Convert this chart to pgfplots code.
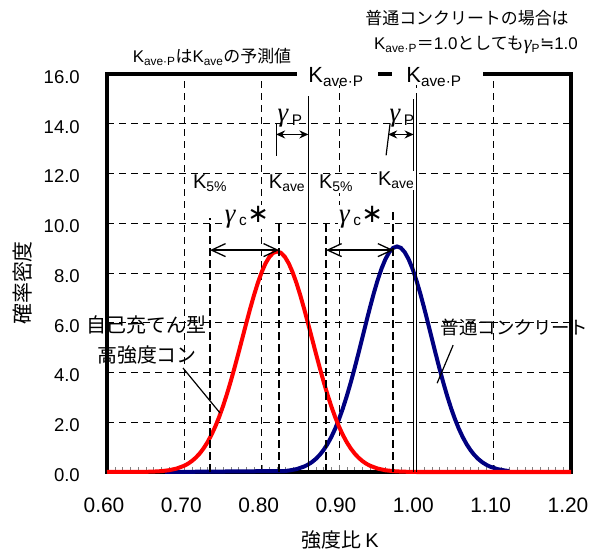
\documentclass[border=0pt]{standalone}
\usepackage{fontspec}
\usepackage{pgfplots}
\pgfplotsset{compat=1.18}
\usetikzlibrary{arrows.meta}
\setmainfont{Liberation Sans}
\newfontfamily\jp{Noto Sans CJK JP}
\newfontfamily\dejavu{DejaVu Sans}
\newfontfamily\gser{Liberation Serif}
\newcommand{\fs}[1]{\fontsize{#1}{#1}\selectfont}
\newcommand{\gam}[1]{{\fontsize{#1}{#1}\selectfont\gser\itshape γ}}
\newcommand{\astk}{{\fontsize{26}{26}\selectfont\dejavu ∗}}
\definecolor{navyb}{RGB}{0,0,128}
\begin{document}
\begin{tikzpicture}
\path[use as bounding box] (0,0) rectangle (601bp,553bp);
\begin{axis}[
  at={(107bp,81bp)}, anchor=south west,
  width=464bp, height=398bp, scale only axis,
  xmin=0.6, xmax=1.2, ymin=0, ymax=16,
  xtick={0.6,0.7,0.8,0.9,1.0,1.1,1.2},
  ytick={0,2,4,6,8,10,12,14,16},
  minor x tick num=9,
  grid=major,
  major grid style={black, line width=0.8bp, dash pattern=on 7bp off 5bp},
  tick align=inside,
  xtick pos=left,
  ytick style={draw=none},
  minor tick length=5bp, major tick length=7bp,
  axis line style={line width=4.5bp},
  clip=false,
  /pgf/number format/assume math mode=true,
  xticklabel style={/pgf/number format/.cd, fixed, fixed zerofill, precision=2, /tikz/.cd, font=\fs{21}, anchor=north, inner sep=0pt, yshift=-26bp, xshift=-3bp},
  yticklabel style={/pgf/number format/.cd, fixed, fixed zerofill, precision=1, /tikz/.cd, font=\fs{18.6}, anchor=east, inner sep=0pt, xshift=-27bp, yshift=-3bp},
  xlabel={\jp 強度比\ \rmfamily K},
  xlabel style={at={(axis description cs:0.502,-0.172)}, anchor=center, font=\fs{20}},
  ylabel={\jp 確率密度},
  ylabel style={at={(axis description cs:-0.181,0.475)}, anchor=center, font=\fs{21}},
]
% blue: normal concrete
\addplot[navyb, line width=4bp] coordinates {
(0.675,0) (0.830,0.040) (0.835,0.057) (0.845,0.115) (0.855,0.220) (0.860,0.298)
(0.865,0.398) (0.870,0.526) (0.875,0.685) (0.880,0.881) (0.885,1.119) (0.890,1.403)
(0.895,1.736) (0.900,2.121) (0.905,2.558) (0.910,3.045) (0.915,3.578) (0.920,4.151)
(0.925,4.754) (0.930,5.374) (0.935,5.998) (0.940,6.608) (0.945,7.187) (0.950,7.715)
(0.955,8.177) (0.960,8.555) (0.965,8.836) (0.970,9.009) (0.975,9.067) (0.980,9.009)
(0.985,8.836) (0.990,8.555) (0.995,8.177) (1.000,7.715) (1.005,7.187) (1.010,6.608)
(1.015,5.998) (1.020,5.374) (1.025,4.754) (1.030,4.151) (1.035,3.578) (1.040,3.045)
(1.045,2.558) (1.050,2.121) (1.055,1.736) (1.060,1.403) (1.065,1.119) (1.070,0.881)
(1.075,0.685) (1.080,0.526) (1.085,0.398) (1.090,0.298) (1.095,0.220) (1.105,0.115)
(1.115,0.057) (1.120,0.040)
};
% red: self-compacting high strength concrete
\addplot[red, line width=4bp] coordinates {
(0.600,0) (0.650,0.007) (0.660,0.016) (0.670,0.034) (0.680,0.070) (0.690,0.137)
(0.700,0.253) (0.705,0.338) (0.710,0.447) (0.715,0.583) (0.720,0.750) (0.725,0.955)
(0.730,1.200) (0.735,1.489) (0.740,1.826) (0.745,2.211) (0.750,2.644) (0.755,3.124)
(0.760,3.645) (0.765,4.201) (0.770,4.782) (0.775,5.377) (0.780,5.972) (0.785,6.551)
(0.790,7.099) (0.795,7.597) (0.800,8.031) (0.805,8.386) (0.810,8.649) (0.815,8.810)
(0.820,8.865) (0.825,8.810) (0.830,8.649) (0.835,8.386) (0.840,8.031) (0.845,7.597)
(0.850,7.099) (0.855,6.551) (0.860,5.972) (0.865,5.377) (0.870,4.782) (0.875,4.201)
(0.880,3.645) (0.885,3.124) (0.890,2.644) (0.895,2.211) (0.900,1.826) (0.905,1.489)
(0.910,1.200) (0.915,0.955) (0.920,0.750) (0.925,0.583) (0.930,0.447) (0.935,0.338)
(0.940,0.253) (0.950,0.137) (0.960,0.070) (0.970,0.034) (0.980,0.016) (0.990,0.007)
(1.000,0) (1.200,0)
};
% K lines
\addplot[black, line width=2bp, dash pattern=on 8bp off 4bp] coordinates {(0.7332,0) (0.7332,10.2)};
\addplot[black, line width=2bp, dash pattern=on 8bp off 4bp] coordinates {(0.8225,0) (0.8225,10.05)};
\addplot[black, line width=2bp, dash pattern=on 8bp off 4bp] coordinates {(0.8833,0) (0.8833,10.05)};
\addplot[black, line width=2bp, dash pattern=on 8bp off 4bp] coordinates {(0.9704,0) (0.9704,10.45)};
\addplot[black, line width=1.2bp] coordinates {(0.8604,0) (0.8604,15.1)};
\addplot[black, line width=1.2bp] coordinates {(0.9965,0) (0.9965,15.0)};
\addplot[black, line width=1.2bp] coordinates {(1.0,0) (1.0,15.2)};
% annotations
\tikzset{lab/.style={fill=white, inner sep=1bp}}
\node[lab, font=\fs{20}] at (axis cs:0.7332,11.61) {K\textsubscript{5\%}};
\node[lab, font=\fs{20}] at (axis cs:0.8329,11.61) {K\textsubscript{ave}};
\node[lab, font=\fs{20}] at (axis cs:0.8962,11.61) {K\textsubscript{5\%}};
\node[lab, font=\fs{20}] at (axis cs:0.9739,11.73) {K\textsubscript{ave}};
\node[lab, font=\fs{22}] at (axis cs:0.7811,10.24) {\gam{27}\,\textsubscript{c}\astk};
\node[lab, font=\fs{22}] at (axis cs:0.9286,10.24) {\gam{27}\,\textsubscript{c}\astk};
\node[font=\fs{22}, inner sep=0pt] at (axis cs:0.8367,14.22) {\gam{27}\,\textsubscript{P}};
\node[font=\fs{22}, inner sep=0pt] at (axis cs:0.9816,14.22) {\gam{27}\,\textsubscript{P}};
\draw[line width=1.3bp, {Straight Barb[length=14bp,width=13bp]}-{Straight Barb[length=14bp,width=13bp]}] (axis cs:0.7332,8.92) -- (axis cs:0.8225,8.92);
\draw[line width=1.3bp, {Straight Barb[length=14bp,width=13bp]}-{Straight Barb[length=14bp,width=13bp]}] (axis cs:0.8833,8.92) -- (axis cs:0.9704,8.92);
\draw[line width=1.6bp, {Stealth[length=9bp,width=8bp]}-{Stealth[length=9bp,width=8bp]}] (axis cs:0.8187,13.57) -- (axis cs:0.8604,13.57);
\draw[line width=1.2bp] (axis cs:0.8187,14.0) -- (axis cs:0.8187,12.7);
\draw[line width=1.6bp, {Stealth[length=9bp,width=8bp]}-{Stealth[length=9bp,width=8bp]}] (axis cs:0.9635,13.57) -- (axis cs:0.9965,13.57);
\draw[line width=1.2bp] (axis cs:0.9661,14.02) -- (axis cs:0.9609,12.73);
\node[font=\fs{20}\jp, inner sep=0pt] at (axis cs:0.6511,5.90) {自己充てん型};
\node[font=\fs{20}\jp, inner sep=0pt] at (axis cs:0.6517,4.70) {高強度コン};
\node[font=\fs{18.5}\jp, inner sep=0pt] at (axis cs:1.1272,5.82) {普通コンクリート};
\draw[line width=1.2bp] (axis cs:0.6983,4.18) -- (axis cs:0.7462,2.37);
\draw[line width=1.2bp] (axis cs:1.0476,5.10) -- (axis cs:1.0269,3.57);
\end{axis}
% labels on the top frame
\fill[white] (297bp,468bp) rectangle (378bp,489bp);
\fill[white] (392bp,468bp) rectangle (483bp,489bp);
\node[anchor=base, font=\fs{22}, inner sep=0pt] at (336bp,470bp) {K\textsubscript{ave·P}};
\node[anchor=base, font=\fs{22}, inner sep=0pt] at (434bp,470bp) {K\textsubscript{ave·P}};
\node[font=\fs{17}, inner sep=0pt] at (212bp,496bp) {K\textsubscript{ave·P}{\jp は}K\textsubscript{ave}{\jp の予測値}};
\node[font=\fs{17}\jp, inner sep=0pt] at (467bp,535bp) {普通コンクリートの場合は};
\node[font=\fs{17}, inner sep=0pt] at (476bp,508bp) {K\textsubscript{ave·P}{\jp ＝}1.0{\jp としても}\gam{20}\textsubscript{P}{\dejavu ≒}1.0};
\end{tikzpicture}
\end{document}
